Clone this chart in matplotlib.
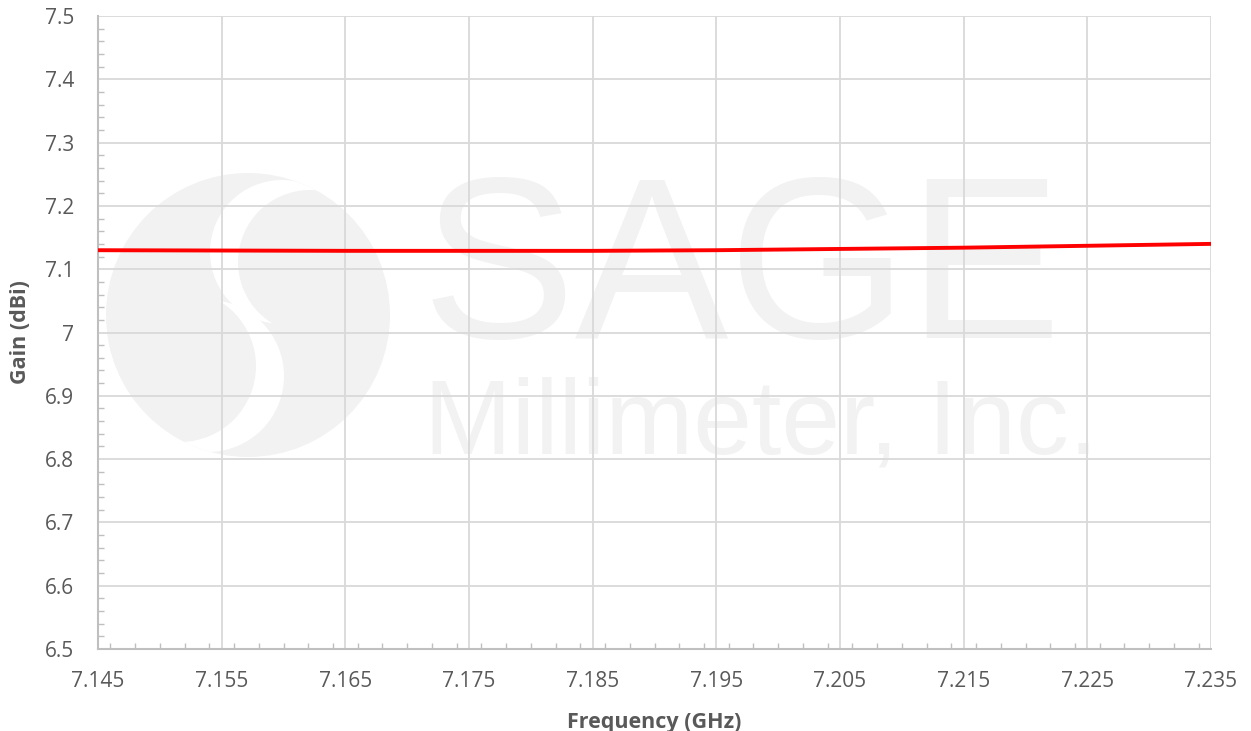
import numpy as np
import matplotlib; matplotlib.use("Agg")
import matplotlib.pyplot as plt
from matplotlib.patches import Circle
from matplotlib.ticker import MultipleLocator

freq = [7.145, 7.155, 7.165, 7.175, 7.185, 7.195, 7.205, 7.215, 7.225, 7.235]
gain = [7.130, 7.1295, 7.129, 7.129, 7.129, 7.130, 7.132, 7.134, 7.137, 7.140]
ytick_labels = ["6.5", "6.6", "6.7", "6.8", "6.9", "7", "7.1", "7.2", "7.3", "7.4", "7.5"]

plt.rcParams["font.family"] = ["Open Sans", "DejaVu Sans"]
W, H = 1251, 731
fig = plt.figure(figsize=(W/100, H/100), dpi=100)

# faint watermark in a background axes laid out in pixel coordinates
bg = fig.add_axes([0, 0, 1, 1], zorder=-1)
bg.set_xlim(0, W); bg.set_ylim(H, 0); bg.axis("off")
wm = "#f2f2f2"
big = Circle((248, 315), 142, facecolor=wm, edgecolor="none")
bg.add_patch(big)
# S-shaped swirl: two crescents cut out of the disc
for (cx, cy, r, c) in [(282, 252, 72, "white"), (310, 262, 72, wm),
                       (208, 376, 76, "white"), (180, 366, 76, wm)]:
    p = Circle((cx, cy), r, facecolor=c, edgecolor="none")
    bg.add_patch(p)
    p.set_clip_path(big)
bg.text(742, 279, "SAGE", ha="center", va="center", fontsize=166,
        color=wm, family="Liberation Sans")
bg.text(761, 426, "Millimeter, Inc.", ha="center", va="center", fontsize=76,
        color=wm, family="Liberation Sans")

ax = fig.add_axes([98/W, 1-649/H, (1211-98)/W, (649-16)/H])
ax.patch.set_alpha(0)

ax.plot(freq, gain, color="#ff0000", linewidth=2.8, zorder=3)

ax.set_xlim(7.145, 7.235)
ax.set_ylim(6.5, 7.5)
ax.set_xticks(freq)
ax.set_xticklabels([f"{x:.3f}" for x in freq])
ax.xaxis.set_minor_locator(MultipleLocator(0.002))
ax.set_yticks(np.arange(6.5, 7.51, 0.1))
ax.set_yticklabels(ytick_labels)
ax.yaxis.set_minor_locator(MultipleLocator(0.02))

ax.grid(True, which="major", color="#d9d9d9", linewidth=1.3, zorder=1)
for s in ("top", "right"):
    ax.spines[s].set_visible(False)
for s in ("left", "bottom"):
    ax.spines[s].set_color("#bfbfbf")
    ax.spines[s].set_linewidth(1.5)
ax.tick_params(which="both", direction="in", color="#bfbfbf", labelcolor="#595959", labelsize=15)
ax.tick_params(which="major", length=0)
ax.tick_params(which="minor", length=4, width=1)
ax.tick_params(axis="x", which="major", pad=16)
ax.tick_params(axis="y", which="major", pad=17)

ax.set_xlabel("Frequency (GHz)", fontsize=15.5, fontweight="bold", color="#595959", labelpad=14)
ax.set_ylabel("Gain (dBi)", fontsize=15.5, fontweight="bold", color="#595959", labelpad=10)

fig.savefig("out.png", dpi=100)
